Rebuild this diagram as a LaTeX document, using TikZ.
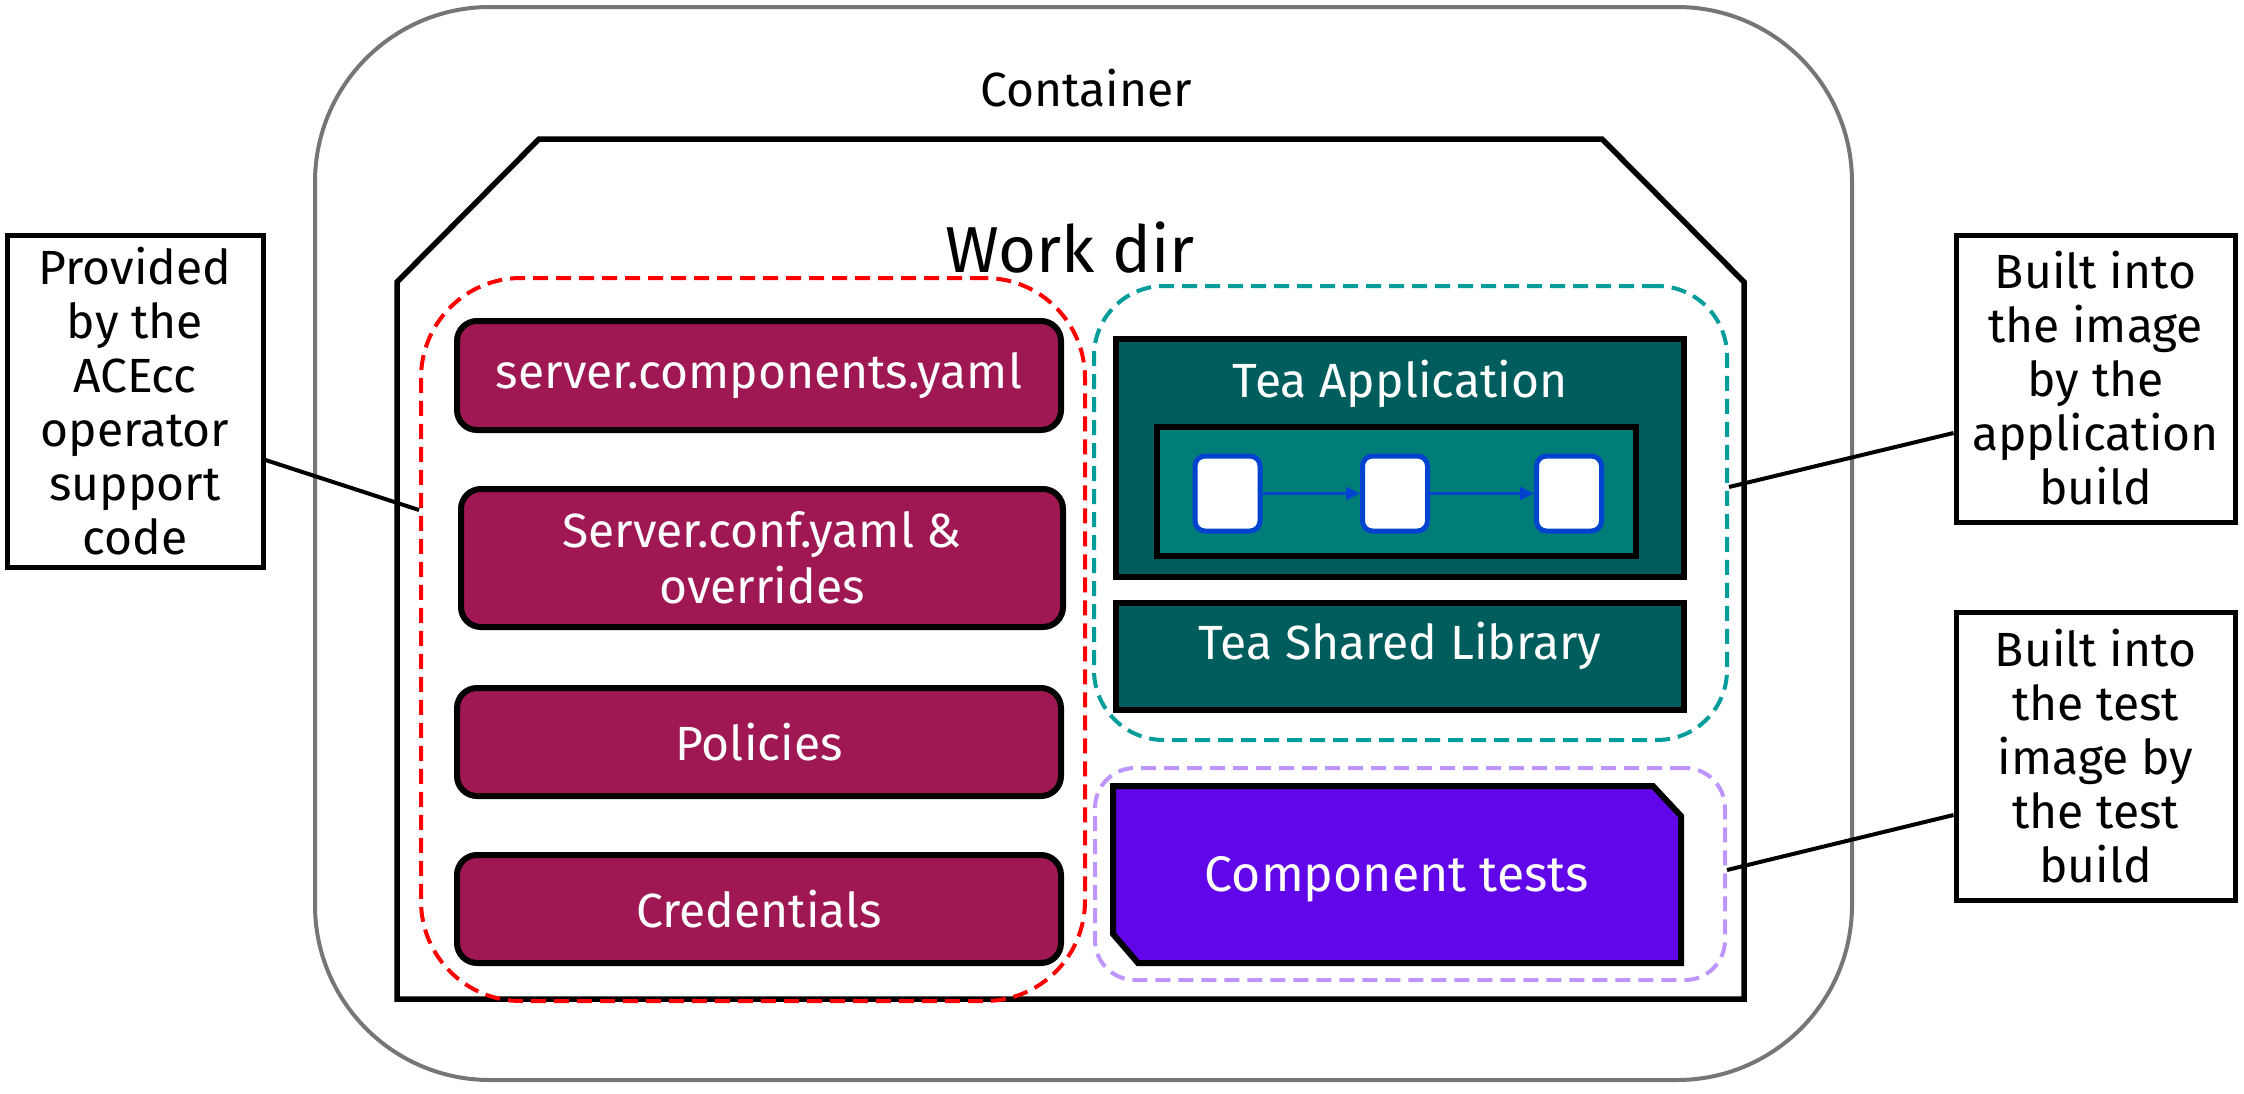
\documentclass[tikz,border=0pt]{standalone}
\usepackage{fontspec}
\setmainfont{Fira Sans}
\usetikzlibrary{arrows.meta,calc}
\definecolor{cgray}{HTML}{767676}
\definecolor{cmaroon}{HTML}{9F1853}
\definecolor{ctealdark}{HTML}{005D5D}
\definecolor{ctealmid}{HTML}{007D79}
\definecolor{ctealdash}{HTML}{009D9A}
\definecolor{cpurpdash}{HTML}{BE95FF}
\definecolor{cpurpfill}{HTML}{6106E8}
\definecolor{cblue}{HTML}{0043CE}
\definecolor{cred}{HTML}{FF0000}
\begin{document}
\begin{tikzpicture}[x=1pt,y=-1pt,
  bigfont/.style={font=\fontsize{48}{54}\selectfont},
  labelbox/.style={draw=black, line width=5pt, fill=white, align=center, inner sep=0pt, bigfont},
  maroonbox/.style={draw=black, line width=6pt, fill=cmaroon, rounded corners=20pt, text=white, align=center, inner sep=0pt, font=\fontsize{48}{56}\selectfont},
  tealbox/.style={draw=black, line width=6pt, fill=ctealdark, inner sep=0pt},
  groupbox/.style={line width=4pt, dash pattern=on 15pt off 8pt, inner sep=0pt},
  stepsq/.style={draw=cblue, line width=5pt, fill=white, rounded corners=10pt, minimum width=65pt, minimum height=75pt, inner sep=0pt},
  flowarrow/.style={draw=cblue, line width=2.5pt, -{Triangle[length=14pt,width=13pt]}},
  conn/.style={draw=black, line width=4pt},
  whitetext/.style={text=white, bigfont}
]
\useasboundingbox (0,0) rectangle (2244,1093);

% Container
\node[draw=cgray, line width=4pt, rounded corners=175pt, minimum width=1537pt, minimum height=1073pt, inner sep=0pt] (container) at (1083.5,543.5) {};
\node[anchor=base, bigfont] (containerlbl) at (1086,106) {Container};

% Work dir
\draw[line width=5.5pt, fill=white, line join=miter] (397,282) -- (539,139) -- (1602,139) -- (1744,282) -- (1744,999) -- (397,999) -- cycle;
\node[anchor=base, font=\fontsize{65}{70}\selectfont] (workdir) at (1070,272) {Work dir};

% Group outlines
\node[groupbox, draw=cred, rounded corners=100pt, minimum width=664pt, minimum height=723pt] (redgrp) at (753,639.5) {};
\node[groupbox, draw=ctealdash, rounded corners=70pt, minimum width=633pt, minimum height=454pt] (tealgrp) at (1410.5,513) {};
\node[groupbox, draw=cpurpdash, rounded corners=40pt, minimum width=630pt, minimum height=212pt] (purpgrp) at (1410,874) {};

% Maroon boxes
\node[maroonbox, minimum width=604pt, minimum height=109pt] (srv) at (759,375.5) {server.components.yaml};
\node[maroonbox, minimum width=602pt, minimum height=138pt] (conf) at (762,558) {Server.conf.yaml \&\\overrides};
\node[maroonbox, minimum width=604pt, minimum height=108pt] (pol) at (759,742) {Policies};
\node[maroonbox, minimum width=604pt, minimum height=108pt] (cred) at (759,909) {Credentials};

% Tea application
\node[tealbox, minimum width=568pt, minimum height=238pt] (teaapp) at (1400,458) {};
\node[anchor=base, whitetext] (teaapplbl) at (1400,397) {Tea Application};
\node[draw=black, line width=6pt, fill=ctealmid, minimum width=479pt, minimum height=129pt, inner sep=0pt] (flow) at (1396.5,491.5) {};
\node[stepsq] (sq1) at (1227.5,493.5) {};
\node[stepsq] (sq2) at (1395,493.5) {};
\node[stepsq] (sq3) at (1569,493.5) {};
\draw[flowarrow] (sq1) -- (sq2);
\draw[flowarrow] (sq2) -- (sq3);

% Tea shared library
\node[tealbox, minimum width=568pt, minimum height=107pt] (teashared) at (1400,656.5) {};
\node[anchor=base, whitetext] (teasharedlbl) at (1400,659) {Tea Shared Library};

% Component tests
\draw[line width=6pt, fill=cpurpfill, line join=miter] (1113,786) -- (1653,786) -- (1681,816) -- (1681,963) -- (1138,963) -- (1113,934) -- cycle;
\node[anchor=base, text=white, font=\fontsize{50}{56}\selectfont] (ctests) at (1397,891) {Component tests};

% Label boxes
\node[labelbox, minimum width=256pt, minimum height=332pt] (lbox) at (135,401) {Provided\\by the\\ACEcc\\operator\\support\\code};
\node[labelbox, minimum width=279pt, minimum height=287pt] (rtop) at (2095.5,378.5) {Built into\\the image\\by the\\application\\build};
\node[labelbox, minimum width=279pt, minimum height=288pt] (rbot) at (2095.5,756) {Built into\\the test\\image by\\the test\\build};

% Connectors
\draw[conn] ([yshift=-59pt]lbox.east) -- ([yshift=129.5pt]redgrp.west);
\draw[conn] ([yshift=26pt]tealgrp.east) -- ([yshift=-54.5pt]rtop.west);
\draw[conn] ([yshift=4pt]purpgrp.east) -- ([yshift=-59pt]rbot.west);
\end{tikzpicture}
\end{document}
